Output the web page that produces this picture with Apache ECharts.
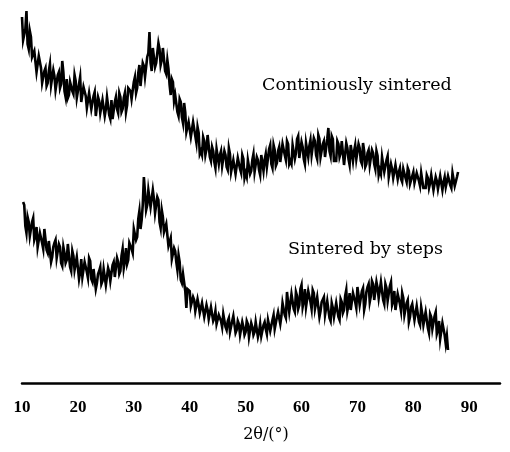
<!DOCTYPE html>
<html>
<head>
<meta charset="utf-8">
<script src="https://cdn.jsdelivr.net/npm/echarts@6/dist/echarts.min.js"></script>
<style>html,body{margin:0;padding:0;background:#fff;}#c{width:510px;height:452px;}</style>
</head>
<body>
<div id="c"></div>
<script>
// 2θ sampling grid (degrees)
var topStart = 10.0, topStep = 0.2;
var bottomStart = 10.2, bottomStep = 0.2;
var xTicks = [10, 20, 30, 40, 50, 60, 70, 80, 90];
var seriesNames = ['Continiously sintered', 'Sintered by steps'];
var xTitle = '2θ/(°)';

// Intensity (arb. units), continuously sintered
var continuous = [
366,343,342,354,372,339,334,352,346,326,
324,332,334,311,313,327,325,315,300,299,
312,315,297,300,312,319,298,296,313,307,
293,293,308,311,295,299,322,311,292,286,
304,285,288,301,303,292,289,308,302,285,
286,299,306,281,282,296,294,287,275,276,
290,292,274,276,287,291,267,267,286,282,
270,269,283,284,267,274,286,288,268,264,
283,264,266,281,286,274,270,290,286,271,
274,285,290,271,278,295,296,292,284,286,
301,306,290,295,310,318,297,299,320,317,
306,308,326,330,351,320,312,335,336,316,
320,319,340,334,318,323,335,336,312,309,
323,314,298,288,304,301,282,288,289,271,
267,284,281,266,260,280,271,251,251,261,
263,246,245,261,259,247,240,256,250,229,
232,228,246,242,228,234,248,249,226,222,
236,232,221,215,234,235,219,228,232,217,
216,232,228,216,213,235,229,211,213,223,
225,209,209,225,223,214,210,228,224,205,
210,206,223,221,209,212,223,229,211,210,
226,223,213,208,228,228,212,223,229,216,
216,234,238,219,215,238,233,217,220,232,
236,221,221,239,239,228,223,242,239,219,
222,219,238,236,224,230,244,247,225,224,
241,236,224,219,240,241,226,237,243,228,
227,245,242,228,224,248,244,226,227,239,
242,226,226,244,255,232,227,247,244,222,
223,222,242,239,226,230,242,242,218,220,
240,235,224,218,238,238,222,232,238,224,
223,239,235,222,219,240,232,216,219,230,
233,218,218,233,230,219,214,232,227,208,
213,209,226,224,211,213,223,227,206,204,
219,214,205,204,218,216,204,211,215,204,
201,214,214,205,201,215,212,199,198,207,
211,200,198,210,211,202,197,210,208,195,
195,195,208,205,195,200,208,208,193,195,
206,202,194,193,207,205,193,201,206,196,
194,207,207,198,195,210,209,197,196,206,
211
];

// Intensity (arb. units), sintered by steps
var steps = [
181,178,157,150,166,161,147,148,161,165,
143,147,156,136,135,150,150,140,134,154,
152,133,130,142,144,121,126,136,140,143,
125,127,139,136,120,117,136,130,120,123,
139,137,116,112,132,127,113,114,126,128,
104,111,124,106,108,121,120,111,105,125,
122,104,101,114,116,94,100,109,112,116,
99,102,114,112,98,96,115,111,102,103,
118,121,106,104,125,121,109,112,127,134,
115,122,135,119,123,140,142,134,130,154,
155,143,146,164,172,154,163,178,206,191,
173,178,193,191,176,174,193,184,170,171,
186,183,161,155,173,166,151,149,159,161,
137,138,145,124,123,135,132,121,113,128,
121,103,100,109,108,92,75,94,94,92,
77,79,86,83,72,71,84,78,70,71,
80,78,66,65,78,73,64,66,76,77,
62,65,72,59,58,68,70,62,56,69,
68,56,53,62,65,51,52,62,67,65,
50,53,62,59,48,48,61,56,48,51,
62,59,46,46,60,56,48,51,61,62,
46,51,59,47,46,58,61,54,49,63,
63,52,51,63,68,54,56,66,71,71,
59,67,80,80,68,65,91,80,71,73,
89,91,74,71,91,87,74,78,94,98,
76,82,94,76,78,92,92,81,74,93,
90,74,73,86,88,66,72,81,83,86,
68,70,82,80,65,62,80,75,66,66,
80,82,66,63,84,81,70,73,87,93,
72,78,90,73,75,90,91,81,75,96,
94,78,78,92,95,73,79,91,96,99,
81,87,102,99,83,81,101,95,85,86,
101,101,83,79,99,95,82,84,97,101,
78,82,92,73,74,89,89,79,72,90,
85,68,67,80,83,61,66,76,79,81,
63,65,77,75,61,58,76,69,58,58,
71,72,55,50,69,66,54,55,67,71,
49,53,62,44,45,60,60,48,39,47,
33
];

function toPairs(start, step, vals) {
  return vals.map(function (v, i) { return [+(start + i * step).toFixed(2), v]; });
}

var chart = echarts.init(document.getElementById('c'), null, {renderer: 'canvas'});
var serif = '"Liberation Serif", "DejaVu Serif", serif';
var wideSerif = '"DejaVu Serif", "Liberation Serif", serif';
chart.setOption({
  animation: false,
  backgroundColor: '#ffffff',
  grid: {left: 22, right: 10, top: 0, bottom: 69, containLabel: false},
  xAxis: {
    type: 'value', min: 10, max: 95.5, interval: 10,
    axisLine: {show: true, lineStyle: {color: '#000', width: 2.5}},
    axisTick: {show: false},
    splitLine: {show: false},
    axisLabel: {
      margin: 16, color: '#000', fontSize: 17, fontWeight: 'bold', fontFamily: serif,
      showMaxLabel: false,
      formatter: function (v) { return xTicks.indexOf(v) >= 0 ? String(v) : ''; }
    },
    name: xTitle, nameLocation: 'middle', nameGap: 44,
    nameTextStyle: {color: '#000', fontSize: 16, fontFamily: wideSerif, padding: [0, 0, 0, 10]}
  },
  yAxis: {type: 'value', min: 0, max: 383, show: false},
  series: [
    {name: seriesNames[0], type: 'line', data: toPairs(topStart, topStep, continuous),
     showSymbol: false, lineStyle: {color: '#000', width: 2.6, join: 'miter'}, silent: true},
    {name: seriesNames[1], type: 'line', data: toPairs(bottomStart, bottomStep, steps),
     showSymbol: false, lineStyle: {color: '#000', width: 2.6, join: 'miter'}, silent: true}
  ],
  graphic: [
    {type: 'text', left: 262, top: 76, style: {text: seriesNames[0], fill: '#000', font: '17.5px ' + wideSerif}},
    {type: 'text', left: 288, top: 240, style: {text: seriesNames[1], fill: '#000', font: '17.5px ' + wideSerif}}
  ]
});
</script>
</body>
</html>
